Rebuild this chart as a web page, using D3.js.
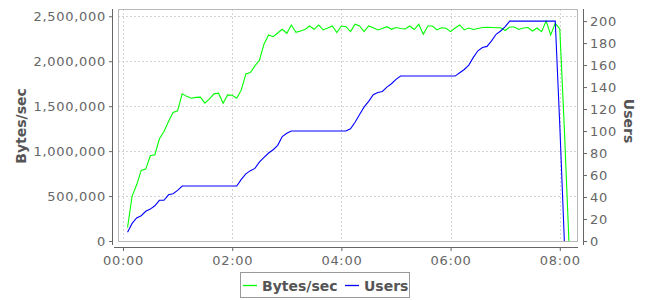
<!DOCTYPE html>
<html>
<head>
<meta charset="utf-8">
<script src="https://cdn.jsdelivr.net/npm/d3@7"></script>
<style>
  body { margin: 0; background: #fff; }
  text { font-family: "DejaVu Sans", sans-serif; }
</style>
</head>
<body>
<div id="chart"></div>
<script>
// sample times, minutes since start
const minutes = [
  5, 10, 15, 20, 25, 30, 35, 40, 45, 50,
  55, 60, 65, 70, 75, 80, 85, 90, 95, 100,
  105, 110, 115, 120, 125, 130, 135, 140, 145, 150,
  155, 160, 165, 170, 175, 180, 185, 190, 195, 200,
  205, 210, 215, 220, 225, 230, 235, 240, 245, 250,
  255, 260, 265, 270, 275, 280, 285, 290, 295, 300,
  305, 310, 315, 320, 325, 330, 335, 340, 345, 350,
  355, 360, 365, 370, 375, 380, 385, 390, 395, 400,
  405, 410, 415, 420, 425, 430, 435, 440, 445, 450,
  455, 460, 465, 470, 475, 480, 485, 490
];

const bytesPerSec = [
  150000, 500000, 625000, 785000, 800000, 948000, 960000, 1137000, 1218000, 1329000,
  1429000, 1448000, 1637000, 1609000, 1589000, 1598000, 1600000, 1533000, 1580000, 1637000,
  1644000, 1533000, 1625000, 1622000, 1589000, 1681000, 1859000, 1873000, 1948000, 2014000,
  2192000, 2292000, 2273000, 2314000, 2355000, 2311000, 2403000, 2322000, 2337000, 2353000,
  2392000, 2355000, 2403000, 2348000, 2370000, 2392000, 2318000, 2392000, 2384000, 2329000,
  2411000, 2392000, 2329000, 2392000, 2373000, 2348000, 2364000, 2384000, 2355000, 2375000,
  2364000, 2359000, 2392000, 2353000, 2411000, 2300000, 2392000, 2392000, 2348000, 2373000,
  2366000, 2329000, 2370000, 2403000, 2348000, 2370000, 2353000, 2364000, 2375000, 2377000,
  2375000, 2373000, 2373000, 2342000, 2381000, 2381000, 2353000, 2370000, 2375000, 2336000,
  2370000, 2329000, 2447000, 2292000, 2422000, 2359000, 1250000, 0
];

const users = [
  8, 16, 21, 23, 27, 29, 32, 37, 37, 42,
  43, 46, 50, 50, 50, 50, 50, 50, 50, 50,
  50, 50, 50, 50, 50, 56, 61, 64, 66, 72,
  76, 80, 83, 87, 95, 98, 100, 100, 100, 100,
  100, 100, 100, 100, 100, 100, 100, 100, 100, 102,
  108, 115, 122, 127, 133, 135, 136, 140, 143, 147,
  150, 150, 150, 150, 150, 150, 150, 150, 150, 150,
  150, 150, 150, 153, 156, 160, 167, 173, 176, 177,
  182, 188, 191, 195, 200, 200, 200, 200, 200, 200,
  200, 200, 200, 200, 200, 105, 0
];

const timeTicks = [0, 120, 240, 360, 480];
const bytesTicks = [0, 500000, 1000000, 1500000, 2000000, 2500000];
const userTicks = [0, 20, 40, 60, 80, 100, 120, 140, 160, 180, 200];
const seriesNames = ["Bytes/sec", "Users"];

const width = 650;
const height = 300;
const plot = { left: 118, right: 578, top: 9, bottom: 241 };

const green = "#00ff00";
const blue = "#0000ff";
const axisColour = "#666";
const labelColour = "#555";

const x = d3.scaleLinear().domain([-5.5, 500]).range([plot.left, plot.right]);
const yBytes = d3.scaleLinear().domain([0, 2581000]).range([plot.bottom, plot.top]);
const yUsers = d3.scaleLinear().domain([0, 211]).range([plot.bottom, plot.top]);

const fmtTime = m => d3.format("02d")(Math.floor(m / 60)) + ":" + d3.format("02d")(m % 60);

const svg = d3.create("svg")
    .attr("width", width)
    .attr("height", height);

svg.append("rect")
    .attr("width", width).attr("height", height)
    .attr("fill", "#fff");

// grid
const grid = svg.append("g")
    .attr("stroke", "#d4d4d4")
    .attr("stroke-dasharray", "2,2")
    .attr("shape-rendering", "crispEdges");

grid.selectAll("line.gx")
    .data(timeTicks)
    .join("line")
    .attr("class", "gx")
    .attr("x1", d => Math.round(x(d)) + 0.5).attr("x2", d => Math.round(x(d)) + 0.5)
    .attr("y1", plot.top).attr("y2", plot.bottom);

grid.selectAll("line.gy")
    .data(bytesTicks)
    .join("line")
    .attr("class", "gy")
    .attr("x1", plot.left).attr("x2", plot.right)
    .attr("y1", d => Math.round(yBytes(d)) + 0.5).attr("y2", d => Math.round(yBytes(d)) + 0.5);

svg.append("rect")
    .attr("x", plot.left + 0.5).attr("y", plot.top + 0.5)
    .attr("width", plot.right - plot.left - 1)
    .attr("height", plot.bottom - plot.top)
    .attr("fill", "none")
    .attr("stroke", "#b8b8b8")
    .attr("shape-rendering", "crispEdges");

// series
const bytesLine = d3.line()
    .x((d, i) => x(minutes[i]))
    .y(d => yBytes(d));

const usersLine = d3.line()
    .x((d, i) => x(minutes[i]))
    .y(d => yUsers(d));

svg.append("path")
    .datum(bytesPerSec)
    .attr("d", bytesLine)
    .attr("fill", "none")
    .attr("stroke", green)
    .attr("stroke-width", 1.1);

svg.append("path")
    .datum(users)
    .attr("d", usersLine)
    .attr("fill", "none")
    .attr("stroke", blue)
    .attr("stroke-width", 1.1);

// axes
function styleAxis(g) {
    g.select(".domain").attr("stroke", axisColour);
    g.selectAll(".tick line").attr("stroke", axisColour);
    g.selectAll(".tick text")
        .attr("fill", axisColour)
        .attr("font-size", 13)
        .attr("letter-spacing", 0.7)
        .attr("font-family", "DejaVu Sans, sans-serif");
}

svg.append("g")
    .attr("transform", `translate(0,${plot.bottom + 6})`)
    .call(d3.axisBottom(x).tickValues(timeTicks).tickFormat(fmtTime)
        .tickSizeInner(4).tickSizeOuter(0).tickPadding(5))
    .call(g => g.select(".domain").attr("d", `M${plot.left - 4},0.5H${plot.right}`))
    .call(styleAxis);

svg.append("g")
    .attr("transform", `translate(${plot.left - 5},0)`)
    .call(d3.axisLeft(yBytes).tickValues(bytesTicks).tickFormat(d3.format(","))
        .tickSizeInner(4).tickSizeOuter(0).tickPadding(3))
    .call(g => g.select(".domain").attr("d", `M-0.5,${plot.top}V${plot.bottom + 4}`))
    .call(styleAxis);

svg.append("g")
    .attr("transform", `translate(${plot.right + 5},0)`)
    .call(d3.axisRight(yUsers).tickValues(userTicks)
        .tickSizeInner(4).tickSizeOuter(0).tickPadding(3))
    .call(g => g.select(".domain").attr("d", `M0.5,${plot.top}V${plot.bottom + 4}`))
    .call(styleAxis);

// axis titles
svg.append("text")
    .attr("transform", "translate(21,126) rotate(-90)")
    .attr("text-anchor", "middle")
    .attr("dominant-baseline", "central")
    .attr("font-size", 14)
    .attr("font-weight", "bold")
    .attr("fill", labelColour)
    .text(seriesNames[0]);

svg.append("text")
    .attr("transform", "translate(629,121) rotate(90)")
    .attr("text-anchor", "middle")
    .attr("dominant-baseline", "central")
    .attr("font-size", 14)
    .attr("font-weight", "bold")
    .attr("fill", labelColour)
    .text(seriesNames[1]);

// legend
const legend = svg.append("g");
legend.append("rect")
    .attr("x", 240.5).attr("y", 272.5)
    .attr("width", 169).attr("height", 25)
    .attr("fill", "#fff")
    .attr("stroke", "#999");

const legendItems = [
    { name: seriesNames[0], colour: green, x: 243 },
    { name: seriesNames[1], colour: blue, x: 345 }
];

legend.selectAll("line")
    .data(legendItems)
    .join("line")
    .attr("x1", d => d.x).attr("x2", d => d.x + 14)
    .attr("y1", 285.5).attr("y2", 285.5)
    .attr("stroke", d => d.colour)
    .attr("stroke-width", 1.3);

legend.selectAll("text")
    .data(legendItems)
    .join("text")
    .attr("x", d => d.x + 19)
    .attr("y", 290.5)
    .attr("font-size", 14)
    .attr("font-weight", "bold")
    .attr("fill", labelColour)
    .text(d => d.name);

d3.select("#chart").node().append(svg.node());
</script>
</body>
</html>
